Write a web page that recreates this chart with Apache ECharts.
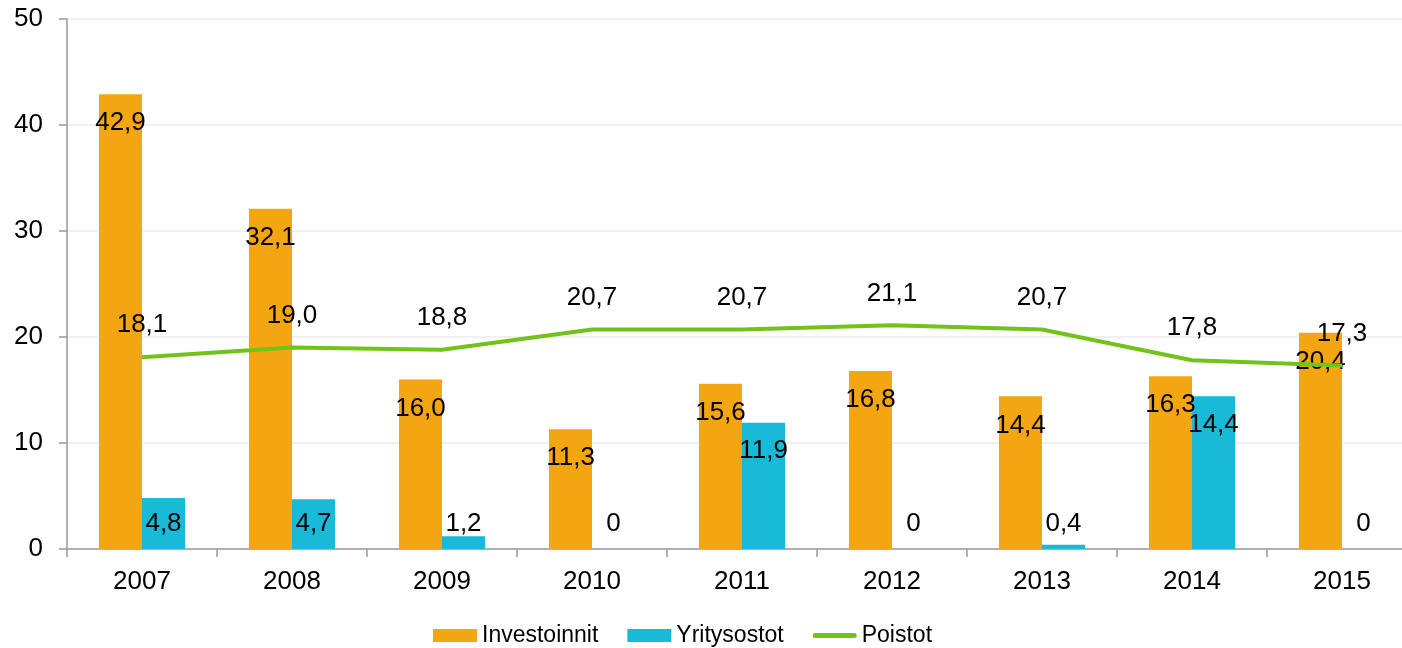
<!DOCTYPE html>
<html>
<head>
<meta charset="utf-8">
<script src="https://cdn.jsdelivr.net/npm/echarts@6/dist/echarts.min.js"></script>
<style>html,body{margin:0;padding:0;background:#fff;overflow:hidden;width:1402px;height:648px;}#c{width:1417px;height:648px;}</style>
</head>
<body>
<div id="c"></div>
<script>
const categories = ['2007','2008','2009','2010','2011','2012','2013','2014','2015'];
const investoinnit = [42.9, 32.1, 16.0, 11.3, 15.6, 16.8, 14.4, 16.3, 20.4];
const yritysostot = [4.8, 4.7, 1.2, 0, 11.9, 0, 0.4, 14.4, 0];
const poistot = [18.1, 19.0, 18.8, 20.7, 20.7, 21.1, 20.7, 17.8, 17.3];
const yTicks = [0, 10, 20, 30, 40, 50];

const FONT = 'Liberation Sans, Arial, sans-serif';
const fmt = p => p.value === 0 ? '0' : p.value.toFixed(1).replace('.', ',');
const lbl = {show: true, color: '#000', fontFamily: FONT, fontSize: 26, formatter: fmt};

const blueData = yritysostot.map(v => v < 6
  ? {value: v, label: {position: 'insideBottom', distance: 12}}
  : {value: v, label: {position: 'insideTop', distance: 15}});

const chart = echarts.init(document.getElementById('c'), null, {renderer: 'canvas'});
chart.setOption({
  animation: false,
  grid: {left: 67, right: 0, top: 19, bottom: 99, containLabel: false},
  legend: {
    left: 433, top: 624, padding: 0, itemWidth: 44, itemHeight: 13, itemGap: 29,
    textStyle: {fontFamily: FONT, fontSize: 23, color: '#000'},
    data: [
      {name: 'Investoinnit', icon: 'rect'},
      {name: 'Yritysostot', icon: 'rect'},
      {name: 'Poistot', icon: 'path://M2.5,0 L41.5,0 A2.5,2.5 0 0 1 41.5,5 L2.5,5 A2.5,2.5 0 0 1 2.5,0 Z'}
    ]
  },
  xAxis: {
    type: 'category', data: categories, boundaryGap: true,
    axisLine: {lineStyle: {color: '#9a9a9a', width: 1.5}},
    axisTick: {show: true, length: 8, alignWithLabel: false, lineStyle: {color: '#9a9a9a', width: 1.5}},
    axisLabel: {color: '#000', fontFamily: FONT, fontSize: 26, margin: 20}
  },
  yAxis: {
    type: 'value', min: yTicks[0], max: yTicks[yTicks.length - 1], interval: 10,
    axisLine: {show: true, lineStyle: {color: '#9a9a9a', width: 1.5}},
    axisTick: {show: true, length: 8, lineStyle: {color: '#9a9a9a', width: 1.5}},
    axisLabel: {color: '#000', fontFamily: FONT, fontSize: 26, margin: 24},
    splitLine: {lineStyle: {color: '#ebebeb', width: 1.5}}
  },
  series: [
    {name: 'Investoinnit', type: 'bar', data: investoinnit, barWidth: 43, barGap: '0%',
     itemStyle: {color: '#F3A512'},
     label: Object.assign({}, lbl, {position: 'insideTop', distance: 16})},
    {name: 'Yritysostot', type: 'bar', data: blueData, barWidth: 43, barGap: '0%',
     itemStyle: {color: '#19B9D8'},
     label: Object.assign({}, lbl)},
    {name: 'Poistot', type: 'line', data: poistot, symbol: 'circle', symbolSize: 0.01, showSymbol: true, z: 3,
     lineStyle: {color: '#72C21A', width: 4}, itemStyle: {color: '#72C21A'},
     label: Object.assign({}, lbl, {position: 'top', distance: 19})}
  ]
});
</script>
</body>
</html>
